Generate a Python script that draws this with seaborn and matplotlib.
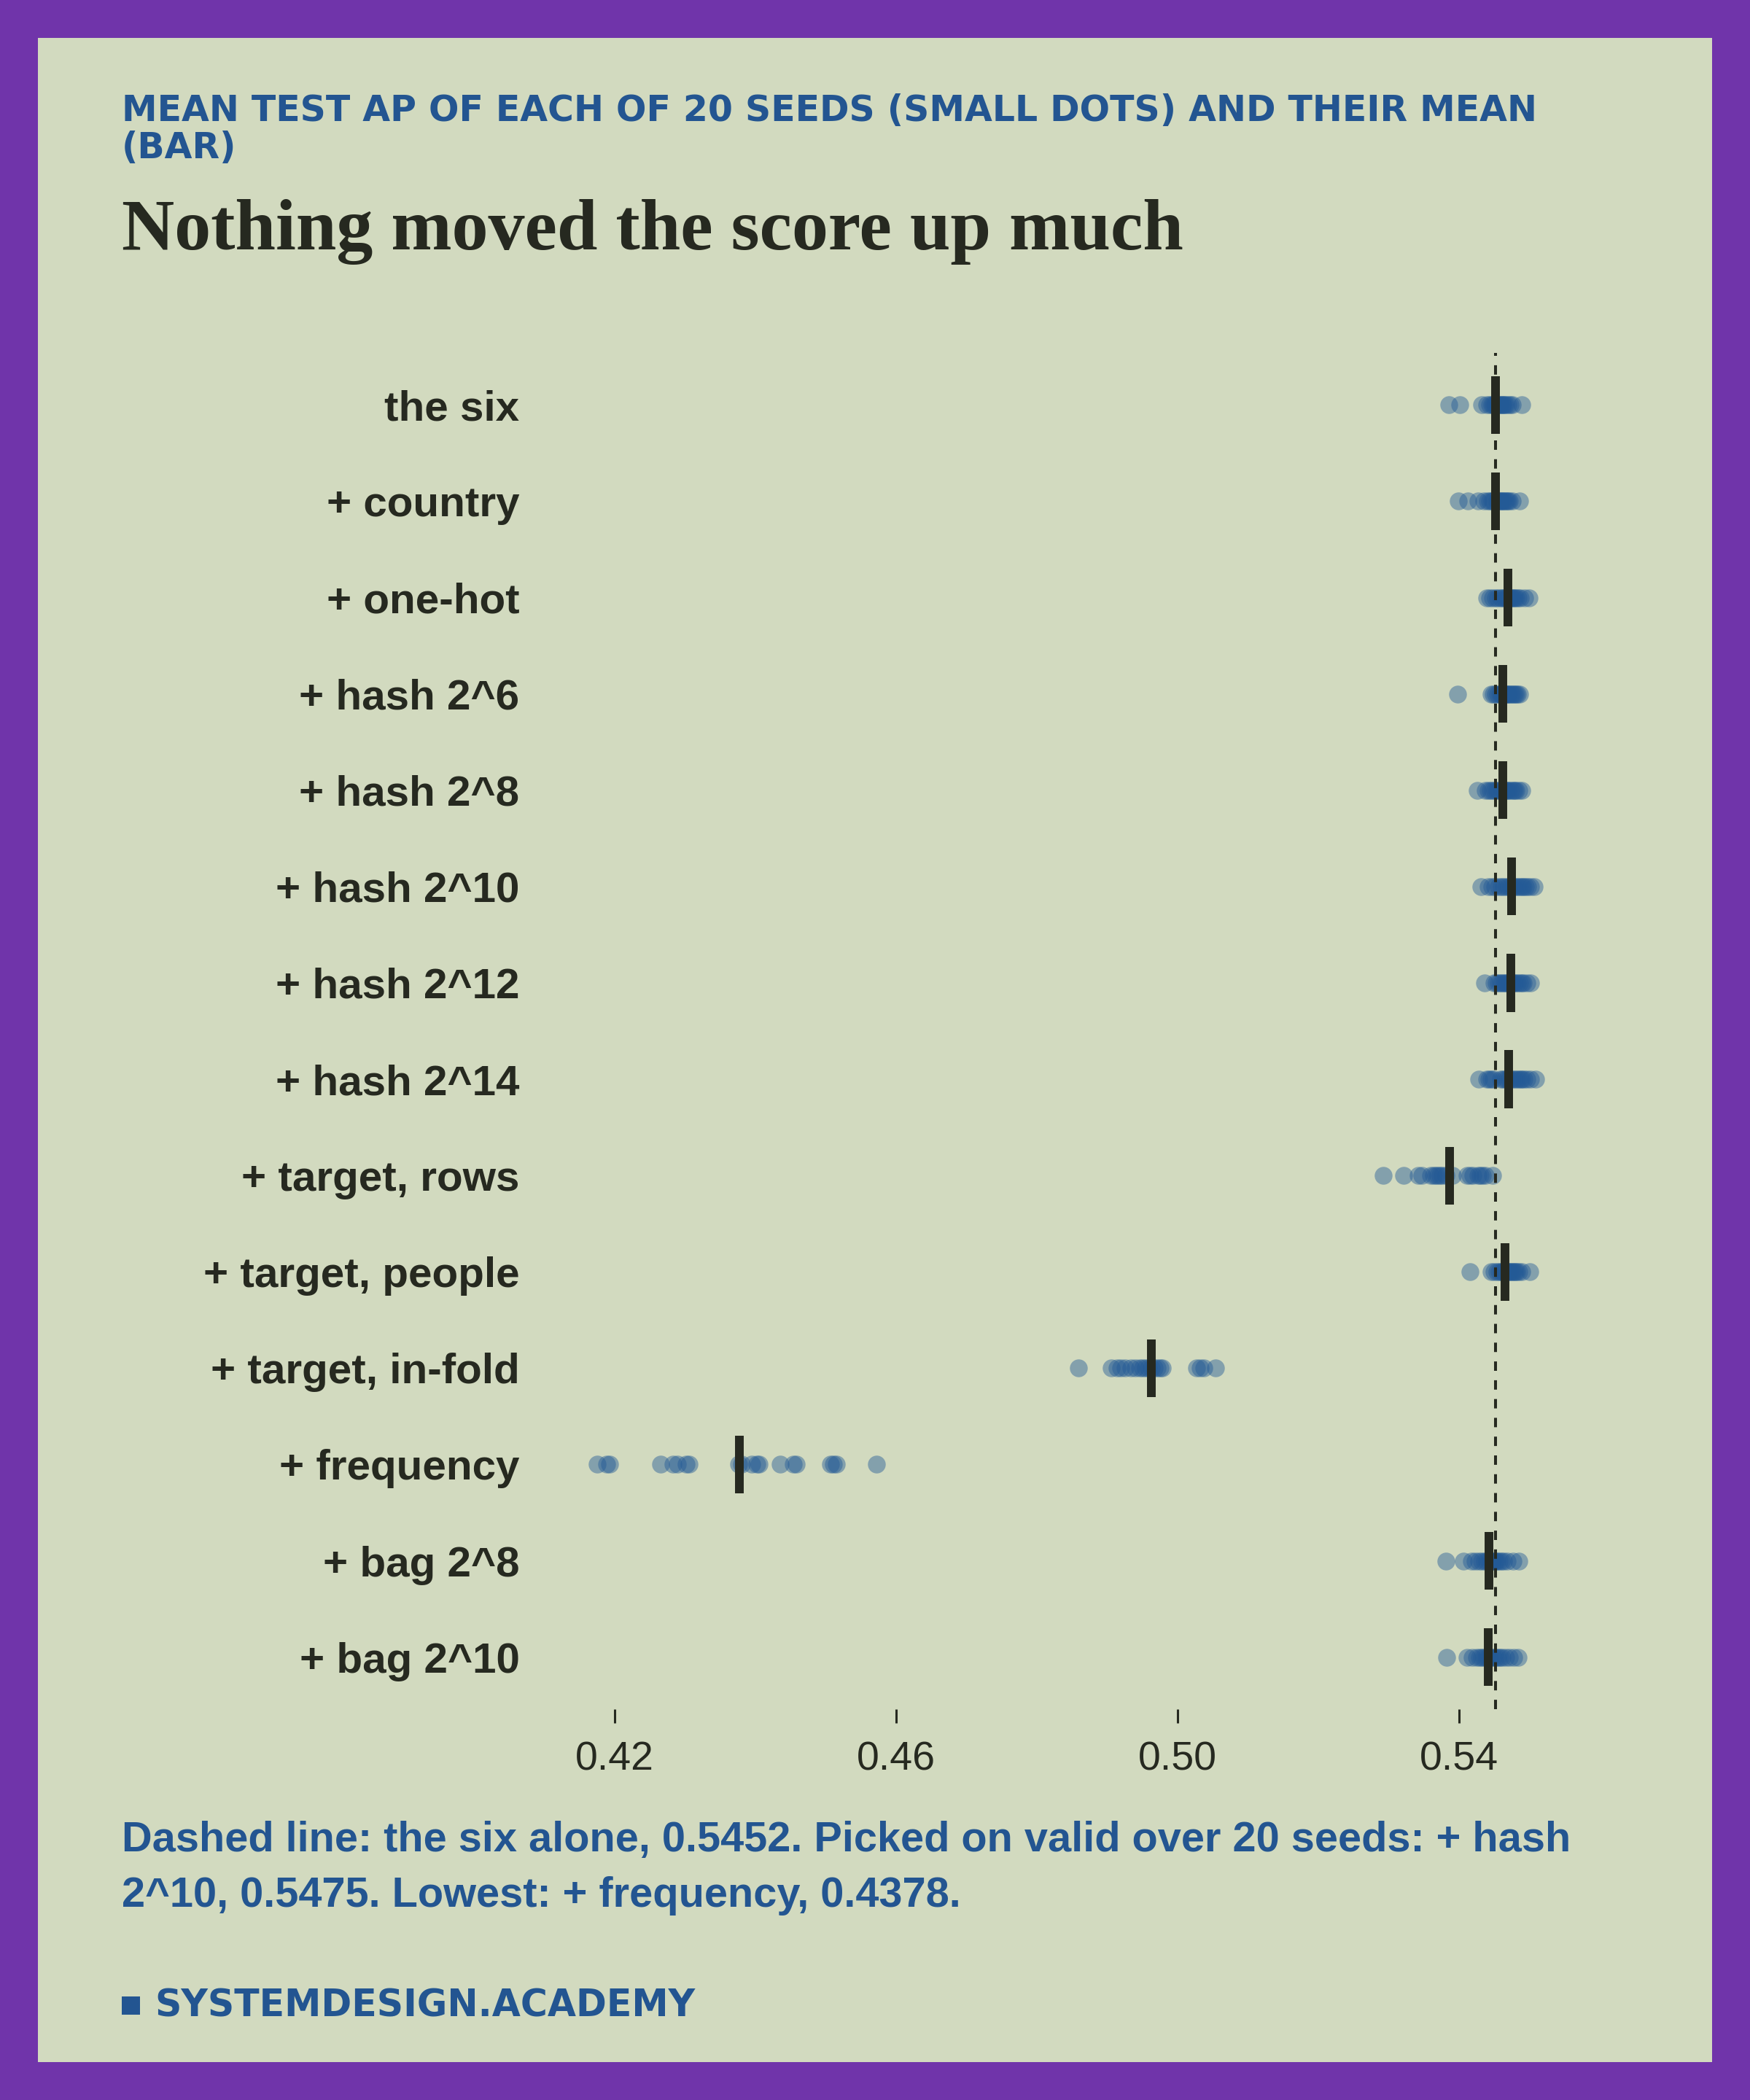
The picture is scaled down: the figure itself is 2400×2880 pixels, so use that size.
import numpy as np
import pandas as pd
import matplotlib
matplotlib.use("Agg")
from matplotlib import pyplot as plt
from matplotlib.patches import Rectangle
import seaborn as sns


variants = ["the six", "+ country", "+ one-hot", "+ hash 2^6", "+ hash 2^8",
            "+ hash 2^10", "+ hash 2^12", "+ hash 2^14", "+ target, rows",
            "+ target, people", "+ target, in-fold", "+ frequency",
            "+ bag 2^8", "+ bag 2^10"]

# mean test AP per seed (20 seeds per variant)
six_seeds = [0.5386, 0.5401, 0.5432, 0.5440, 0.5444, 0.5447, 0.5449, 0.5451, 0.5453, 0.5455,
             0.5457, 0.5459, 0.5461, 0.5463, 0.5465, 0.5467, 0.5470, 0.5473, 0.5476, 0.5489]
country_seeds = [0.5399, 0.5413, 0.5427, 0.5436, 0.5441, 0.5444, 0.5447, 0.5449, 0.5454, 0.5456,
                 0.5458, 0.5460, 0.5462, 0.5464, 0.5466, 0.5468, 0.5470, 0.5472, 0.5476, 0.5486]
onehot_seeds = [0.5440, 0.5444, 0.5448, 0.5452, 0.5455, 0.5459, 0.5462, 0.5465, 0.5467, 0.5469,
                0.5471, 0.5473, 0.5475, 0.5477, 0.5479, 0.5481, 0.5484, 0.5487, 0.5494, 0.5500]
hash6_seeds = [0.5398, 0.5446, 0.5449, 0.5452, 0.5455, 0.5458, 0.5460, 0.5462, 0.5464, 0.5466,
               0.5468, 0.5469, 0.5471, 0.5473, 0.5475, 0.5477, 0.5479, 0.5481, 0.5483, 0.5486]
hash8_seeds = [0.5426, 0.5438, 0.5442, 0.5445, 0.5448, 0.5451, 0.5454, 0.5457, 0.5460, 0.5463,
               0.5465, 0.5467, 0.5469, 0.5471, 0.5474, 0.5477, 0.5479, 0.5481, 0.5485, 0.5489]
hash10_seeds = [0.5431, 0.5442, 0.5447, 0.5451, 0.5456, 0.5460, 0.5464, 0.5468, 0.5471, 0.5474,
                0.5477, 0.5480, 0.5483, 0.5486, 0.5489, 0.5492, 0.5495, 0.5498, 0.5502, 0.5507]
hash12_seeds = [0.5437, 0.5450, 0.5453, 0.5456, 0.5459, 0.5462, 0.5465, 0.5467, 0.5469, 0.5472,
                0.5474, 0.5476, 0.5478, 0.5480, 0.5483, 0.5486, 0.5489, 0.5492, 0.5497, 0.5502]
hash14_seeds = [0.5428, 0.5440, 0.5443, 0.5446, 0.5449, 0.5459, 0.5463, 0.5466, 0.5469, 0.5472,
                0.5475, 0.5478, 0.5481, 0.5484, 0.5487, 0.5490, 0.5493, 0.5497, 0.5502, 0.5509]
target_rows_seeds = [0.5293, 0.5322, 0.5342, 0.5348, 0.5360, 0.5364, 0.5367, 0.5370, 0.5373, 0.5377,
                     0.5382, 0.5391, 0.5412, 0.5416, 0.5420, 0.5427, 0.5430, 0.5434, 0.5438, 0.5448]
target_people_seeds = [0.5416, 0.5446, 0.5450, 0.5454, 0.5457, 0.5460, 0.5462, 0.5464, 0.5466, 0.5468,
                       0.5470, 0.5472, 0.5474, 0.5476, 0.5478, 0.5480, 0.5482, 0.5485, 0.5490, 0.5501]
target_infold_seeds = [0.4859, 0.4906, 0.4914, 0.4920, 0.4926, 0.4934, 0.4940, 0.4946, 0.4951, 0.4955,
                       0.4959, 0.4963, 0.4967, 0.4971, 0.4975, 0.4979, 0.5027, 0.5032, 0.5038, 0.5054]
frequency_seeds = [0.4176, 0.4189, 0.4193, 0.4266, 0.4283, 0.4290, 0.4302, 0.4306, 0.4377, 0.4381,
                   0.4395, 0.4402, 0.4406, 0.4436, 0.4454, 0.4458, 0.4507, 0.4511, 0.4515, 0.4572]
bag8_seeds = [0.5382, 0.5407, 0.5418, 0.5423, 0.5428, 0.5433, 0.5437, 0.5440, 0.5443, 0.5446,
              0.5448, 0.5450, 0.5452, 0.5454, 0.5457, 0.5460, 0.5464, 0.5469, 0.5477, 0.5485]
bag10_seeds = [0.5383, 0.5412, 0.5419, 0.5425, 0.5429, 0.5433, 0.5436, 0.5439, 0.5442, 0.5444,
               0.5446, 0.5449, 0.5452, 0.5455, 0.5458, 0.5462, 0.5467, 0.5472, 0.5478, 0.5484]

# mean over the 20 seeds (the bars)
mean_ap = [0.5452, 0.5452, 0.5470, 0.5463, 0.5463, 0.5475, 0.5474, 0.5471,
           0.5387, 0.5466, 0.4963, 0.4378, 0.5443, 0.5442]
baseline_ap = 0.5452
x_ticks = [0.42, 0.46, 0.50, 0.54]

PURPLE = "#7034aa"
PANEL = "#d2dabf"
INK = "#262920"
BLUE = "#235591"
DOT = "#235a96"

seed_lists = [six_seeds, country_seeds, onehot_seeds, hash6_seeds, hash8_seeds,
              hash10_seeds, hash12_seeds, hash14_seeds, target_rows_seeds,
              target_people_seeds, target_infold_seeds, frequency_seeds,
              bag8_seeds, bag10_seeds]
df = pd.DataFrame({
    "variant": np.repeat(variants, [len(s) for s in seed_lists]),
    "ap": np.concatenate(seed_lists),
})

sns.set_theme(style="white")
plt.rcParams["font.family"] = ["Liberation Sans", "DejaVu Sans"]

W, H = 2400, 2880
fig = plt.figure(figsize=(12, 14.4), dpi=200, facecolor=PURPLE)
fig.add_artist(Rectangle((52 / W, 52 / H), 1 - 104 / W, 1 - 104 / H,
                         transform=fig.transFigure, facecolor=PANEL,
                         edgecolor="none", zorder=-5))

ax = fig.add_axes([759.6 / W, 1 - 2344 / H, (2145.4 - 759.6) / W, (2344 - 484) / H])
ax.set_facecolor(PANEL)

sns.stripplot(data=df, x="ap", y="variant", order=variants, jitter=False,
              size=8.8, color=DOT, alpha=0.45, linewidth=0, ax=ax, zorder=2)

ax.axvline(baseline_ap, color=INK, lw=1.45, linestyle=(0, (3.2, 3.2)), zorder=3)

rows = np.arange(len(variants))
bars = ax.vlines(mean_ap, rows - 0.3, rows + 0.3, colors=INK, linewidth=4.3, zorder=4)
bars.set_capstyle("butt")

ax.set_xlim(0.4114, 0.555)
ax.set_ylim(len(variants) - 1 + 0.54, -0.54)
ax.set_xticks(x_ticks)
ax.set_xticklabels([f"{t:.2f}" for t in x_ticks])
ax.set(xlabel="", ylabel="")
sns.despine(ax=ax, left=True, bottom=True)
ax.tick_params(axis="x", bottom=True, length=6.8, width=1.1, color=INK,
               pad=9, labelsize=20, labelcolor=INK)
ax.tick_params(axis="y", left=False, length=0, pad=17, labelsize=21, labelcolor=INK)
for lab in ax.get_yticklabels():
    lab.set_fontweight("bold")

fig.text(167 / W, 1 - 128 / H,
         "MEAN TEST AP OF EACH OF 20 SEEDS (SMALL DOTS) AND THEIR MEAN\n(BAR)",
         family=["DejaVu Sans"], weight="bold", size=17.6, color=BLUE,
         ha="left", va="top", linespacing=1.08)
fig.text(167 / W, 1 - 342 / H, "Nothing moved the score up much",
         family=["Liberation Serif", "DejaVu Serif"], weight="bold", size=36,
         color=INK, ha="left", va="baseline")
fig.text(167 / W, 1 - 2497 / H,
         "Dashed line: the six alone, 0.5452. Picked on valid over 20 seeds: + hash\n"
         "2^10, 0.5475. Lowest: + frequency, 0.4378.",
         weight="bold", size=20.8, color=BLUE, ha="left", va="top", linespacing=1.53)
fig.add_artist(Rectangle((167 / W, 1 - 2763 / H), 25 / W, 25 / H,
                         transform=fig.transFigure, facecolor=BLUE, edgecolor="none"))
fig.text(212 / W, 1 - 2766 / H, "SYSTEMDESIGN.ACADEMY",
         family=["DejaVu Sans"], weight="bold", size=18.2, color=BLUE,
         ha="left", va="baseline")

fig.savefig("out.png", dpi=200, facecolor=PURPLE)
